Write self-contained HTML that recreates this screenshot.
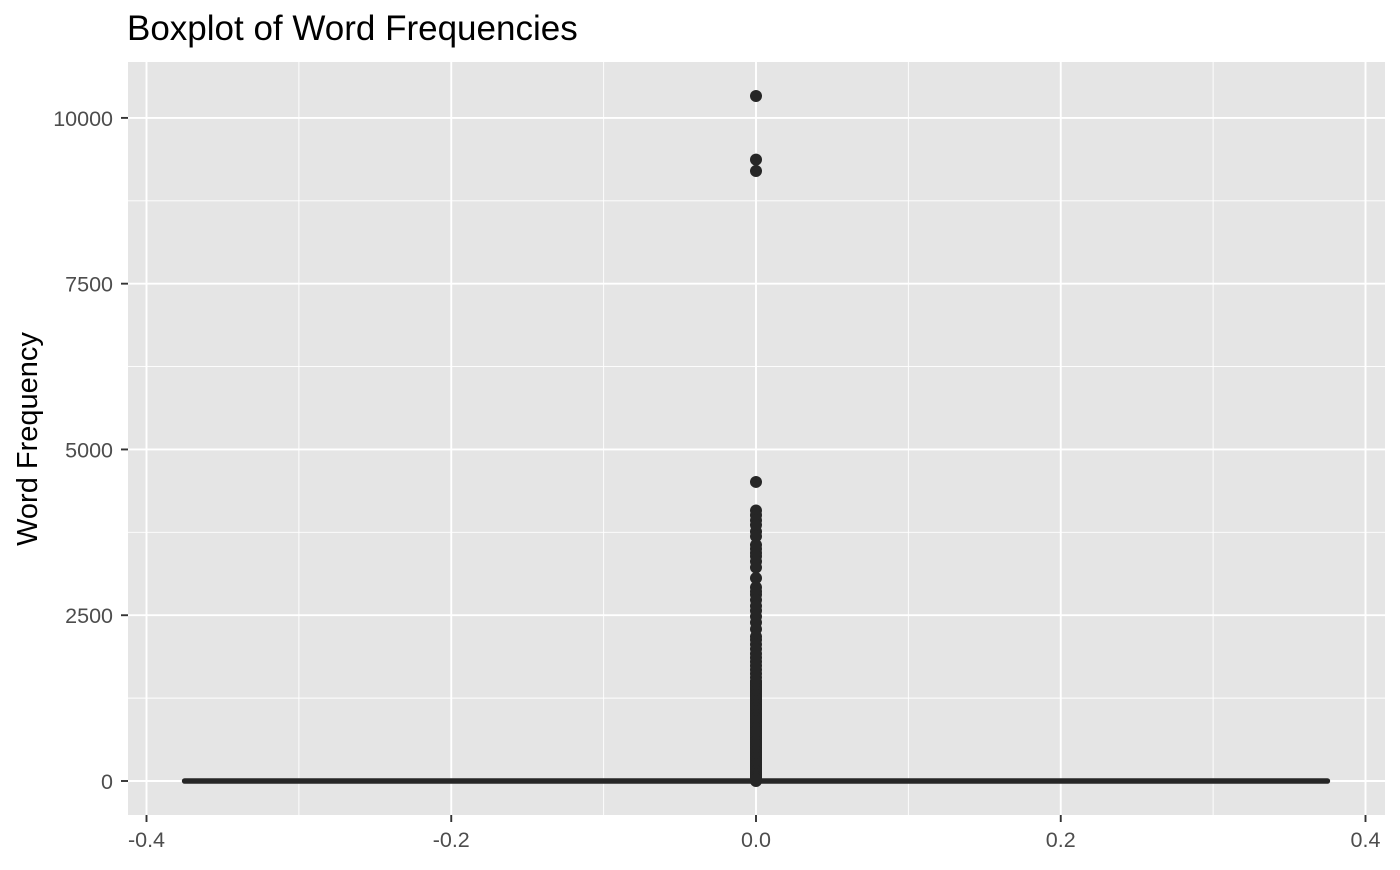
<!DOCTYPE html>
<html><head><meta charset="utf-8"><style>
body{margin:0;background:#fff;font-family:"Liberation Sans",Arial,sans-serif}
</style></head><body>
<svg width="1400" height="865" xmlns="http://www.w3.org/2000/svg">
<g id="g"></g>
</svg>
<script>
const xTicks=[-0.4,-0.2,0.0,0.2,0.4];
const xTickLabels=["-0.4","-0.2","0.0","0.2","0.4"];
const yTicks=[0,2500,5000,7500,10000];
const yTickLabels=["0","2500","5000","7500","10000"];
const boxStats=[0,0,0,0,0]; // min,q1,median,q3,max
const boxHalfWidth=[0.375];
const outliers=[10330,9370,9200,4510,4080,4010,3930,3860,3760,3690,3560,3500,3440,3390,3310,3220,3060,2920,2860,2810,2730,2640,2570,2480,2390,2290,2180,2130,2060,1990,1920,1860,1800,1740,1680,1620,1560,1500,1450,1400,1350,1300,1250,1200,1150,1100,1050,1000,950,900,850,800,750,700,650,600,550,500,450,400,350,300,250,200,150,100,60,30];
const P={l:128,r:1385,t:62,b:815};
const xs=v=>756+v*1523.75;
const ys=v=>781-v*0.06631;
const g=document.getElementById('g');
const NS='http://www.w3.org/2000/svg';
function mk(t,a,p){const e=document.createElementNS(NS,t);for(const k in a)e.setAttribute(k,a[k]);(p||g).appendChild(e);return e;}
const panel=mk('rect',{x:P.l,y:P.t,width:P.r-P.l,height:P.b-P.t,fill:'#e5e5e5'});


for(let i=0;i<xTicks.length-1;i++){const v=(xTicks[i]+xTicks[i+1])/2;const l=mk('line',{x1:xs(v),x2:xs(v),y1:P.t,y2:P.b,stroke:'#fff','stroke-width':0.9});}
for(let i=0;i<yTicks.length-1;i++){const v=(yTicks[i]+yTicks[i+1])/2;const l=mk('line',{x1:P.l,x2:P.r,y1:ys(v),y2:ys(v),stroke:'#fff','stroke-width':0.9});}
xTicks.forEach((v,i)=>{
 const l=mk('line',{x1:xs(v),x2:xs(v),y1:P.t,y2:P.b,stroke:'#fff','stroke-width':1.9});
 
 const t=mk('line',{x1:xs(v),x2:xs(v),y1:P.b,y2:P.b+7,stroke:'#333','stroke-width':1.9});
 
 const tx=mk('text',{x:xs(v),y:P.b+32,'text-anchor':'middle','font-size':21.5,fill:'#4d4d4d'});
 tx.textContent=xTickLabels[i];
 
});
yTicks.forEach((v,i)=>{
 const l=mk('line',{x1:P.l,x2:P.r,y1:ys(v),y2:ys(v),stroke:'#fff','stroke-width':1.9});
 
 const t=mk('line',{x1:P.l-7,x2:P.l,y1:ys(v),y2:ys(v),stroke:'#333','stroke-width':1.9});
 
 const tx=mk('text',{x:P.l-15,y:ys(v)+8,'text-anchor':'end','font-size':21.5,fill:'#4d4d4d'});
 tx.textContent=yTickLabels[i];
 
});
const bw=boxHalfWidth[0];
const box=mk('rect',{x:xs(-bw),y:ys(boxStats[3]),width:xs(bw)-xs(-bw),height:Math.max(0,ys(boxStats[1])-ys(boxStats[3])),fill:'#fff',stroke:'#333','stroke-width':2});

const med=mk('line',{x1:xs(-bw),x2:xs(bw),y1:ys(boxStats[2]),y2:ys(boxStats[2]),stroke:'#262626','stroke-width':5.5,'stroke-linecap':'round'});

const wk=mk('line',{x1:xs(0),x2:xs(0),y1:ys(boxStats[0]),y2:ys(boxStats[4]),stroke:'#333','stroke-width':2});

const band=mk('line',{x1:xs(0),x2:xs(0),y1:ys(0),y2:ys(1500),stroke:'#262626','stroke-width':12,'stroke-linecap':'round'});

outliers.forEach(v=>{
 const c=mk('circle',{cx:xs(0),cy:ys(v),r:6,fill:'#262626'});
 
});
const title=mk('text',{x:127,y:40,'font-size':35,fill:'#000'});title.textContent='Boxplot of Word Frequencies';

const yt=mk('text',{x:0,y:0,'font-size':29,fill:'#000','text-anchor':'middle',transform:'translate(37,439) rotate(-90)'});yt.textContent='Word Frequency';

</script>
</body></html>
